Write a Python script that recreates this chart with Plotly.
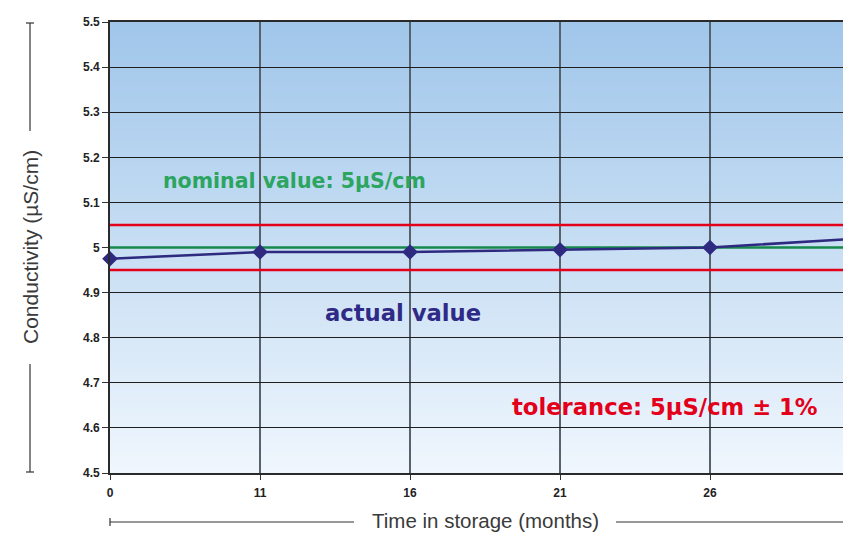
import plotly.graph_objects as go

# ---- data ----
months = ["0", "11", "16", "21", "26", "31"]
conductivity = [4.975, 4.99, 4.99, 4.995, 5.0, 5.02]
nominal_value = 5.0
tolerance_pct = 1.0
y_ticks = [4.5, 4.6, 4.7, 4.8, 4.9, 5.0, 5.1, 5.2, 5.3, 5.4, 5.5]
y_tick_labels = ["4.5", "4.6", "4.7", "4.8", "4.9", "5", "5.1", "5.2", "5.3", "5.4", "5.5"]

x_idx = list(range(len(months)))
tol = nominal_value * tolerance_pct / 100.0
x_span = [x_idx[0], x_idx[-1]]

fig = go.Figure()

# tolerance and nominal lines
for yv, col in [(nominal_value + tol, "#e3001b"), (nominal_value - tol, "#e3001b"),
                (nominal_value, "#16894a")]:
    fig.add_trace(go.Scatter(x=x_span, y=[yv, yv], mode="lines",
                             line=dict(color=col, width=2.6),
                             showlegend=False, hoverinfo="skip"))

fig.add_trace(go.Scatter(
    x=x_idx, y=conductivity, mode="lines+markers",
    line=dict(color="#2e2a80", width=2.6),
    marker=dict(symbol="diamond", size=12, color="#2e2a80"),
    cliponaxis=False, showlegend=False, hoverinfo="skip",
))

# background gradient bands (plot area)
top = (160, 198, 234)
bot = (239, 246, 253)
n = 90
for i in range(n):
    t = i / (n - 1)
    c = tuple(round(top[k] + (bot[k] - top[k]) * t) for k in range(3))
    fig.add_shape(type="rect", xref="x domain", yref="y domain",
                  x0=0, x1=1, y0=max(0, 1 - (i + 1) / n), y1=min(1, 1 - i / n + 0.002),
                  fillcolor="rgb(%d,%d,%d)" % c, line=dict(width=0), layer="below")

W, L, T, B = 733.0, 110.0, 22.0, 473.0
px = lambda v: (v - L) / W
py = lambda v: (B - v) / (B - T)

def pline(x0, y0, x1, y1, w=1.2):
    fig.add_shape(type="line", xref="paper", yref="paper",
                  x0=px(x0), y0=py(y0), x1=px(x1), y1=py(y1),
                  line=dict(color="#333333", width=w), layer="above")

# y title lines
pline(30, 23, 30, 131)
pline(30, 364, 30, 472)
pline(26, 23, 34, 23)
pline(26, 472, 34, 472)
# x title lines
pline(110, 522, 354, 522)
pline(616, 522, 850, 522)
pline(110, 518, 110, 526)

annos = [
    dict(x=px(30), y=py(247), text="Conductivity (µS/cm)", textangle=-90,
         font=dict(family="Liberation Sans, Arial", size=21, color="#3a3a3a")),
    dict(x=px(485), y=py(520), text="Time in storage (months)",
         font=dict(family="Liberation Sans, Arial", size=20.5, color="#3a3a3a")),
    dict(x=px(294), y=py(181), text="<b>nominal value: 5µS/cm</b>",
         font=dict(family="DejaVu Sans", size=20.5, color="#2ba55f")),
    dict(x=px(403), y=py(313), text="<b>actual value</b>",
         font=dict(family="DejaVu Sans", size=22.7, color="#2e2a85")),
    dict(x=px(665), y=py(407), text="<b>tolerance: 5µS/cm ± 1%</b>",
         font=dict(family="DejaVu Sans", size=22.7, color="#e3001b")),
]
for a in annos:
    fig.add_annotation(xref="paper", yref="paper", showarrow=False,
                       xanchor="center", yanchor="middle", **a)

tickfont = dict(family="Liberation Sans, Arial", size=12, color="#222222")
fig.update_layout(
    width=843, height=533,
    margin=dict(l=110, r=0, t=22, b=60),
    paper_bgcolor="white", plot_bgcolor="rgba(0,0,0,0)",
    showlegend=False,
    xaxis=dict(
        range=[0, 733 / 150], tickvals=x_idx, ticktext=["<b>%s</b>" % m for m in months],
        showgrid=True, gridcolor="#58626d", gridwidth=1.6,
        showline=True, linecolor="#2a2a2a", linewidth=1.6, mirror=True,
        ticks="outside", ticklen=5, tickcolor="#333333", tickwidth=1.2,
        tickfont=tickfont, zeroline=False, fixedrange=True, ticklabelstandoff=3,
    ),
    yaxis=dict(
        range=[4.5, 5.5], tickvals=y_ticks, ticktext=["<b>%s</b>" % t for t in y_tick_labels],
        showgrid=True, gridcolor="#1e1e1e", gridwidth=1,
        showline=True, linecolor="#2a2a2a", linewidth=1.6,
        ticks="outside", ticklen=6, tickcolor="#333333", tickwidth=1.2,
        tickfont=tickfont, zeroline=False, fixedrange=True,
    ),
)

fig.write_html("out.html", config={"displayModeBar": False},
               post_script="document.body.style.margin='0';document.body.style.overflow='hidden';")
